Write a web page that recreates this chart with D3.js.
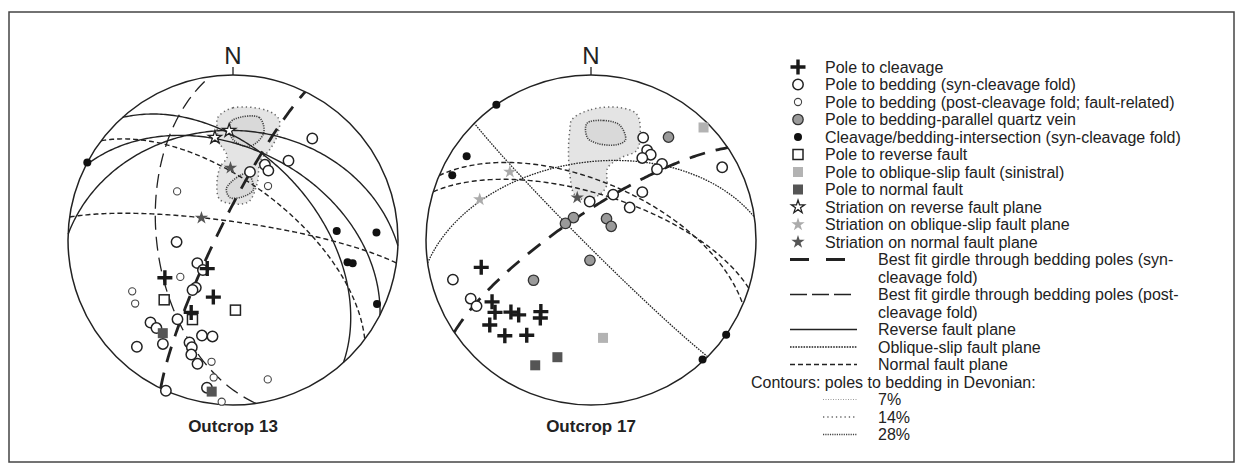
<!DOCTYPE html>
<html>
<head>
<meta charset="utf-8">
<script src="https://cdn.jsdelivr.net/npm/d3@7/dist/d3.min.js"></script>
<style>
  body { margin: 0; background: #fff; }
  svg text { font-family: "Liberation Sans", Arial, Helvetica, sans-serif; fill: #222; }
</style>
</head>
<body>
<svg id="chart" width="1243" height="472"></svg>
<script>
// Lines are [trend, plunge] in degrees, planes are [dip direction, dip]

// ---- Outcrop 13 ----
const o13Cleavage = [[241, 51], [222, 71], [199, 60], [210, 48]];
const o13BedSyn = [[38, 23], [35, 41], [23, 49], [27, 51], [14, 55], [268, 62], [237, 69], [225, 69],
  [218, 60], [219, 58], [215, 41], [225, 30], [221, 30], [214, 25], [222, 14], [198, 39], [192, 40],
  [203, 33], [201, 31], [200, 27], [196, 23], [190, 10], [204, 0]];
const o13BedPost = [[311, 53], [235, 58], [243, 32], [237, 30], [190, 26], [188, 17], [184, 2], [166, 14], [33, 58]];
const o13Intersect = [[298, 0], [85, 37], [87, 14], [101, 30], [101, 27], [114, 5]];
const o13ReversePole = [[229, 44], [207, 45], [178, 55]];
const o13NormalPole = [[217, 30], [188, 8]];
const o13StriaReverse = [[350, 37], [358, 34]];
const o13StriaNormal = [[358, 54], [305, 71]];
const o13ReversePlanes = [[48, 48], [27, 44], [2, 34]];
const o13NormalPlanes = [[37, 62], [8, 81]];
const o13GirdleSyn = [296, 82];
const o13GirdlePost = [262, 52];
const o13ContourOuter = [[353, 26], [0, 21], [15, 20], [21, 23], [23, 33], [22, 41], [19, 48], [23, 59],
  [23, 69], [11, 72], [342, 69], [344, 61], [350, 53], [356, 48], [352, 40], [352, 31]];
const o13ContourInnerA = [[0, 28], [12, 25], [16, 33], [10, 42], [0, 39], [358, 32]];
const o13ContourInnerB = [[353, 64], [12, 56], [22, 63], [13, 68], [356, 69]];

// ---- Outcrop 17 ----
const o17Cleavage = [[256, 32], [238, 30], [233, 28], [230, 21], [222, 23], [228, 35], [224, 37], [214, 31], [215, 46], [213, 43]];
const o17BedSyn = [[254, 14], [244, 20], [240, 21], [27, 31], [32, 36], [35, 37], [32, 41], [43, 37], [43, 41],
  [61, 10], [47, 55], [50, 65], [26, 65], [358, 71]];
const o17QuartzVein = [[37, 23], [322, 76], [303, 75], [36, 77], [56, 78], [183, 80], [235, 55]];
const o17Intersect = [[325, 0], [304, 10], [295, 8], [137, 1], [125, 0]];
const o17ObliquePole = [[45, 4], [173, 40]];
const o17NormalPole = [[204, 18], [196, 27]];
const o17StriaOblique = [[310, 36], [290, 29]];
const o17StriaNormal = [[342, 68]];
const o17ObliquePlanes = [[225, 87], [352, 51]];
const o17NormalPlanes = [[23, 61], [17, 67]];
const o17GirdleSyn = [326, 77];
const o17ContourOuter = [[351, 27], [0, 22], [12, 19], [20, 20], [25, 30], [27, 39], [20, 46], [13, 53],
  [16, 62], [11, 67], [352, 70], [340, 66], [342, 56], [346, 43], [349, 33]];
const o17ContourInner = [[358, 30], [6, 28], [14, 29], [19, 36], [15, 40], [4, 41], [358, 38]];

// ---- legend ----
const legendPointLabels = ["Pole to cleavage", "Pole to bedding (syn-cleavage fold)",
  "Pole to bedding (post-cleavage fold; fault-related)", "Pole to bedding-parallel quartz vein",
  "Cleavage/bedding-intersection (syn-cleavage fold)", "Pole to reverse fault",
  "Pole to oblique-slip fault (sinistral)", "Pole to normal fault", "Striation on reverse fault plane",
  "Striation on oblique-slip fault plane", "Striation on normal fault plane"];
const legendPointSymbols = ["cross", "circle", "smallCircle", "greyCircle", "dot", "openSquare",
  "greySquare", "darkSquare", "openStar", "greyStar", "darkStar"];
const legendLineLabels = [["Best fit girdle through bedding poles (syn-", "cleavage fold)"],
  ["Best fit girdle through bedding poles (post-", "cleavage fold)"],
  ["Reverse fault plane"], ["Oblique-slip fault plane"], ["Normal fault plane"]];
const legendLineStyles = ["girdleSyn", "girdlePost", "reverse", "oblique", "normal"];
const contourTitle = "Contours: poles to bedding in Devonian:";
const contourLabels = ["7%", "14%", "28%"];
const contourStyles = ["c7", "c14", "c28"];

const svg = d3.select('#chart');

// Radius of the primitive circle
const netRadius = 165;

// Stroke styles of the different plane types
const lineStyles = {
  reverse: { width: 1.4, dash: null },
  normal: { width: 1.4, dash: "5,3" },
  oblique: { width: 1.3, dash: "1.6,1.1" },
  girdleSyn: { width: 2.8, dash: "16,11" },
  girdlePost: { width: 1.3, dash: "14,7" },
  c7: { width: 1, dash: "1,1.5", color: "#9a9a9a" },
  c14: { width: 1.5, dash: "1.3,3", color: "#666" },
  c28: { width: 1.6, dash: "1.2,1.1", color: "#444" }
};

// Frame
svg.append('rect')
  .attr('x', 9).attr('y', 12).attr('width', 1225).attr('height', 450)
  .attr('fill', 'none').attr('stroke', '#444').attr('stroke-width', 1.5);

/**
 * Draws one marker of the given type, centred on (x, y)
 */
function drawSymbol(parent, type, x, y) {
  const g = parent.append('g').attr('transform', `translate(${x},${y})`);
  if (type === 'cross') {
    g.append('path').attr('d', 'M-7.5,0H7.5M0,-7.5V7.5')
      .attr('stroke', '#1a1a1a').attr('stroke-width', 3.4).attr('fill', 'none');
  } else if (type === 'circle') {
    g.append('circle').attr('r', 5.2).attr('fill', '#fff').attr('stroke', '#222').attr('stroke-width', 1.5);
  } else if (type === 'smallCircle') {
    g.append('circle').attr('r', 3.6).attr('fill', '#fff').attr('stroke', '#444').attr('stroke-width', 1.1);
  } else if (type === 'greyCircle') {
    g.append('circle').attr('r', 5.2).attr('fill', '#9a9a9a').attr('stroke', '#333').attr('stroke-width', 1.3);
  } else if (type === 'dot') {
    g.append('circle').attr('r', 4).attr('fill', '#111');
  } else if (type.endsWith('Square')) {
    const fill = { openSquare: '#fff', greySquare: '#b3b3b3', darkSquare: '#555' }[type];
    g.append('rect').attr('x', -5).attr('y', -5).attr('width', 10).attr('height', 10)
      .attr('fill', fill)
      .attr('stroke', type === 'openSquare' ? '#222' : 'none').attr('stroke-width', 1.5);
  } else if (type.endsWith('Star')) {
    const fill = { openStar: '#fff', greyStar: '#ababab', darkStar: '#555' }[type];
    g.append('path').attr('d', d3.symbol(d3.symbolStar, 55)())
      .attr('fill', fill)
      .attr('stroke', type === 'openStar' ? '#222' : 'none').attr('stroke-width', 1.3);
  }
}

/**
 * Sets the stroke of a line according to its style name
 */
function styleLine(sel, name) {
  const s = lineStyles[name];
  sel.attr('fill', 'none').attr('stroke', s.color || '#222').attr('stroke-width', s.width);
  if (s.dash) sel.attr('stroke-dasharray', s.dash);
  return sel;
}

/**
 * Draws one lower-hemisphere equal-area net
 */
function drawNet(cx, cy, title, d) {
  const proj = d3.geoAzimuthalEqualArea()
    .rotate([0, -90])
    .scale(netRadius / Math.SQRT2)
    .translate([cx, cy])
    .clipAngle(90)
    .precision(0.2);
  const path = d3.geoPath(proj);
  const toXY = l => proj([180 - l[0], l[1]]);
  const g = svg.append('g');

  // Contours of Devonian bedding poles
  const contourLine = d3.line().curve(d3.curveCatmullRomClosed.alpha(0.5));
  styleLine(g.append('path').attr('d', contourLine(d.contourOuter.map(toXY))), 'c14')
    .attr('fill', '#e4e4e4');
  d.contourInner.forEach(c => {
    styleLine(g.append('path').attr('d', contourLine(c.map(toXY))), 'c28').attr('fill', '#d9d9d9');
  });

  // Great circles of planes
  const planePath = p => {
    const ring = d3.geoCircle().center([-p[0], 90 - p[1]]).radius(90).precision(1)().coordinates[0];
    return path({ type: 'LineString', coordinates: ring });
  };
  d.planes.forEach(([style, list]) => {
    list.forEach(p => styleLine(g.append('path').attr('d', planePath(p)), style));
  });

  // Primitive and north tick
  g.append('circle').attr('cx', cx).attr('cy', cy).attr('r', netRadius)
    .attr('fill', 'none').attr('stroke', '#222').attr('stroke-width', 1.5);
  g.append('line').attr('x1', cx).attr('x2', cx).attr('y1', cy - netRadius).attr('y2', cy - netRadius - 8)
    .attr('stroke', '#222').attr('stroke-width', 1.3);
  g.append('text').attr('x', cx).attr('y', cy - netRadius - 11)
    .attr('text-anchor', 'middle').attr('font-size', 24).text('N');

  // Point data
  d.points.forEach(([type, list]) => {
    list.forEach(l => {
      const [x, y] = toXY(l);
      drawSymbol(g, type, x, y);
    });
  });

  g.append('text').attr('x', cx).attr('y', 432)
    .attr('text-anchor', 'middle').attr('font-size', 17).attr('font-weight', 'bold').text(title);
}

drawNet(233, 240, 'Outcrop 13', {
  contourOuter: o13ContourOuter,
  contourInner: [o13ContourInnerA, o13ContourInnerB],
  planes: [['normal', o13NormalPlanes], ['reverse', o13ReversePlanes],
    ['girdlePost', [o13GirdlePost]], ['girdleSyn', [o13GirdleSyn]]],
  points: [['smallCircle', o13BedPost], ['circle', o13BedSyn], ['openSquare', o13ReversePole],
    ['darkSquare', o13NormalPole], ['dot', o13Intersect], ['cross', o13Cleavage],
    ['openStar', o13StriaReverse], ['darkStar', o13StriaNormal]]
});

drawNet(591, 240, 'Outcrop 17', {
  contourOuter: o17ContourOuter,
  contourInner: [o17ContourInner],
  planes: [['normal', o17NormalPlanes], ['oblique', o17ObliquePlanes], ['girdleSyn', [o17GirdleSyn]]],
  points: [['circle', o17BedSyn], ['greyCircle', o17QuartzVein], ['greySquare', o17ObliquePole],
    ['darkSquare', o17NormalPole], ['dot', o17Intersect], ['cross', o17Cleavage],
    ['greyStar', o17StriaOblique], ['darkStar', o17StriaNormal]]
});

// ---- Legend ----
const legend = svg.append('g');
const rowY = k => 67 + 17.5 * k;
const textX = 825, lineTextX = 878;

legendPointLabels.forEach((label, i) => {
  drawSymbol(legend, legendPointSymbols[i], 798, rowY(i));
  legend.append('text').attr('x', textX).attr('y', rowY(i) + 5.5).attr('font-size', 16).text(label);
});

let k = legendPointLabels.length;
legendLineLabels.forEach((lines, i) => {
  const style = legendLineStyles[i];
  const y = rowY(k);
  if (style === 'girdleSyn') {
    styleLine(legend.append('line').attr('x1', 790).attr('x2', 848).attr('y1', y).attr('y2', y), style)
      .attr('stroke-dasharray', '19,17');
  } else if (style === 'girdlePost') {
    styleLine(legend.append('line').attr('x1', 790).attr('x2', 851).attr('y1', y).attr('y2', y), style)
      .attr('stroke-dasharray', '17,5');
  } else {
    styleLine(legend.append('line').attr('x1', 790).attr('x2', 857).attr('y1', y).attr('y2', y), style);
  }
  lines.forEach(t => {
    legend.append('text').attr('x', lineTextX).attr('y', rowY(k) + 5.5).attr('font-size', 16).text(t);
    k += 1;
  });
});

legend.append('text').attr('x', 751).attr('y', rowY(k) + 5.5).attr('font-size', 16).text(contourTitle);
k += 1;
contourLabels.forEach((label, i) => {
  const y = rowY(k);
  styleLine(legend.append('line').attr('x1', 823).attr('x2', 857).attr('y1', y).attr('y2', y), contourStyles[i]);
  legend.append('text').attr('x', lineTextX).attr('y', y + 5.5).attr('font-size', 16).text(label);
  k += 1;
});
</script>
</body>
</html>
